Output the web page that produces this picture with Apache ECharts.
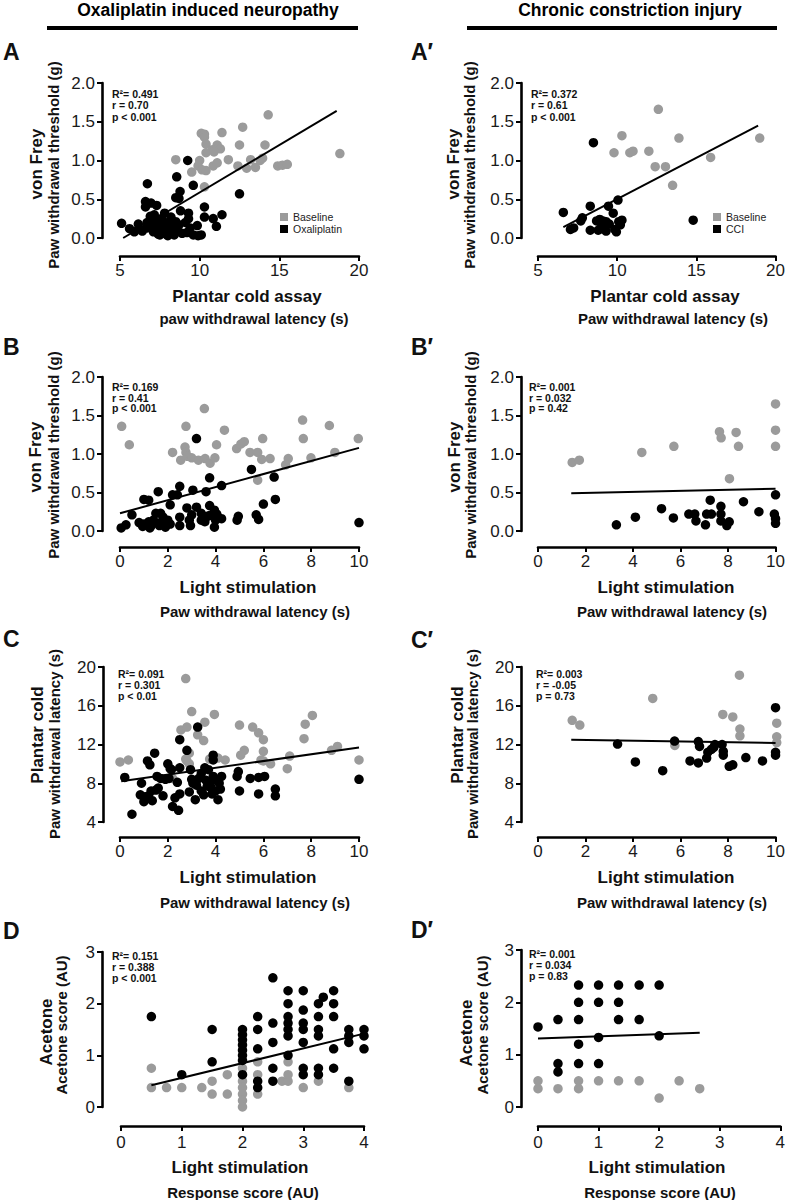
<!DOCTYPE html>
<html><head><meta charset="utf-8">
<script src="https://cdn.jsdelivr.net/npm/echarts@6/dist/echarts.min.js"></script>
<style>html,body{margin:0;padding:0;background:#fff}#c{width:788px;height:1200px}</style>
</head><body><div id="c"></div>
<script>
// ---------------- DATA ----------------
const headers = ['Oxaliplatin induced neuropathy', 'Chronic constriction injury'];
const panelLetters = ['A', 'A\u2032', 'B', 'B\u2032', 'C', 'C\u2032', 'D', 'D\u2032'];
const xTitles = ['Plantar cold assay', 'Plantar cold assay', 'Light stimulation', 'Light stimulation', 'Light stimulation', 'Light stimulation', 'Light stimulation', 'Light stimulation'];
const xSubtitles = ['paw withdrawal latency (s)', 'Paw withdrawal latency (s)', 'Paw withdrawal latency (s)', 'Paw withdrawal latency (s)', 'Paw withdrawal latency (s)', 'Paw withdrawal latency (s)', 'Response score (AU)', 'Response score (AU)'];
const yTitles = ['von Frey', 'von Frey', 'von Frey', 'von Frey', 'Plantar cold', 'Plantar cold', 'Acetone', 'Acetone'];
const ySubtitles = ['Paw withdrawal threshold (g)', 'Paw withdrawal threshold (g)', 'Paw withdrawal threshold (g)', 'Paw withdrawal threshold (g)', 'Paw withdrawal latency (s)', 'Paw withdrawal latency (s)', 'Acetone score (AU)', 'Acetone score (AU)'];
const statsText = [
  ['R\u00b2= 0.491', 'r = 0.70', 'p < 0.001'],
  ['R\u00b2= 0.372', 'r = 0.61', 'p < 0.001'],
  ['R\u00b2= 0.169', 'r = 0.41', 'p < 0.001'],
  ['R\u00b2= 0.001', 'r = 0.032', 'p = 0.42'],
  ['R\u00b2= 0.091', 'r = 0.301', 'p < 0.01'],
  ['R\u00b2= 0.003', 'r = -0.05', 'p = 0.73'],
  ['R\u00b2= 0.151', 'r = 0.388', 'p < 0.001'],
  ['R\u00b2= 0.001', 'r = 0.034', 'p = 0.83']
];
const groupNames = ['Baseline', 'Oxaliplatin', 'CCI'];

// Panel A: von Frey vs plantar cold (oxaliplatin)
const aBase = [[14.3,1.59],[12.7,1.43],[10.1,1.35],[10.3,1.34],[10.3,1.30],[11.4,1.36],[10.4,1.21],[12.5,1.20],[14.1,1.20],[11.1,1.20],[11.3,1.15],[10.8,1.14],[10.4,1.10],[10.9,1.11],[8.5,1.01],[10.0,1.00],[9.9,0.93],[10.15,0.88],[10.4,0.87],[10.85,0.93],[11.1,0.97],[11.8,1.01],[9.5,0.85],[12.4,0.93],[12.95,0.90],[13.2,1.01],[13.5,0.91],[13.8,1.00],[13.95,1.03],[14.9,0.93],[15.2,0.94],[15.5,0.95],[18.8,1.09],[10.3,0.66]];
const aTreat = [[9.25,1.00],[8.56,0.79],[6.72,0.70],[9.6,0.68],[8.77,0.60],[8.5,0.52],[8.7,0.51],[12.5,0.57],[6.6,0.47],[6.95,0.45],[7.3,0.42],[6.6,0.40],[7.8,0.32],[8.8,0.35],[10.3,0.40],[9.3,0.32],[9.3,0.25],[10.3,0.27],[10.85,0.25],[11.4,0.30],[11.05,0.15],[5.1,0.19],[5.6,0.12],[6.15,0.18],[6.2,0.12],[6.7,0.20],[6.7,0.13],[7.0,0.16],[7.1,0.08],[7.2,0.22],[7.3,0.12],[7.4,0.05],[7.5,0.18],[7.6,0.25],[7.7,0.09],[7.8,0.14],[7.9,0.05],[8.0,0.20],[8.1,0.10],[8.2,0.27],[8.3,0.15],[8.4,0.04],[8.5,0.21],[8.6,0.10],[8.7,0.17],[8.0,0.03],[8.9,0.06],[9.1,0.20],[9.2,0.07],[9.4,0.13],[9.6,0.04],[9.85,0.16],[9.9,0.03],[10.1,0.04],[5.9,0.08],[6.4,0.09],[6.9,0.28],[7.15,0.30],[7.5,0.04],[8.3,0.07]];
const aFit = [[5.2,0.0],[18.6,1.64]];

// Panel A': von Frey vs plantar cold (CCI)
const apBase = [[12.6,1.66],[10.3,1.32],[9.8,1.10],[10.8,1.10],[11.0,1.12],[12.0,1.12],[12.4,0.92],[13.05,0.92],[13.9,1.29],[13.5,0.68],[15.9,1.04],[19.0,1.29]];
const apTreat = [[8.5,1.23],[6.6,0.33],[7.05,0.11],[7.25,0.13],[7.8,0.26],[7.7,0.22],[8.3,0.41],[8.3,0.10],[8.7,0.22],[8.8,0.10],[8.95,0.20],[9.0,0.12],[9.1,0.22],[9.2,0.14],[9.3,0.09],[9.45,0.41],[9.5,0.18],[9.75,0.32],[9.85,0.11],[9.95,0.08],[10.05,0.49],[10.1,0.21],[10.2,0.17],[10.3,0.23],[14.8,0.23],[8.9,0.24],[9.3,0.21]];
const apFit = [[6.6,0.14],[18.9,1.45]];

// Panel B: von Frey vs light stimulation (oxaliplatin)
const bBase = [[0.07,1.36],[0.39,1.12],[3.53,1.59],[2.76,1.36],[4.37,1.31],[2.2,1.02],[2.72,1.09],[2.76,1.02],[2.54,0.92],[2.82,0.97],[3.0,0.95],[3.28,0.92],[3.56,0.94],[3.77,0.88],[3.97,0.95],[4.04,1.12],[4.88,1.07],[5.06,1.13],[5.2,1.16],[5.44,1.02],[5.76,1.02],[5.97,1.20],[5.93,0.93],[6.28,0.94],[5.76,0.66],[7.04,0.94],[6.93,0.86],[7.64,1.44],[7.67,1.20],[7.99,0.95],[8.76,1.37],[8.99,1.02],[9.97,1.20]];
const bTreat = [[3.2,1.20],[5.5,0.80],[6.45,0.70],[3.75,0.69],[4.25,0.59],[2.5,0.58],[1.6,0.51],[2.2,0.47],[2.4,0.47],[3.05,0.53],[3.6,0.51],[1.0,0.41],[1.2,0.40],[2.1,0.34],[6.5,0.41],[6.0,0.35],[2.8,0.30],[3.2,0.31],[3.75,0.33],[3.95,0.27],[4.05,0.22],[4.1,0.18],[4.25,0.16],[4.0,0.14],[0.5,0.21],[0.05,0.04],[0.25,0.08],[0.8,0.11],[1.0,0.09],[1.2,0.12],[1.4,0.14],[1.5,0.23],[1.7,0.23],[1.8,0.18],[1.75,0.12],[2.0,0.14],[2.1,0.09],[2.5,0.18],[2.5,0.07],[2.9,0.14],[3.0,0.21],[2.95,0.07],[3.4,0.23],[3.4,0.14],[3.55,0.12],[3.65,0.19],[3.75,0.20],[3.95,0.05],[4.9,0.14],[4.95,0.19],[5.7,0.21],[5.8,0.15],[10.0,0.11],[1.25,0.04],[1.65,0.07],[1.9,0.05],[1.3,0.07],[0.95,0.06]];
const bFit = [[0.0,0.23],[10.0,1.08]];

// Panel B': von Frey vs light stimulation (CCI)
const bpBase = [[1.44,0.89],[1.74,0.92],[4.37,1.02],[5.72,1.10],[7.64,1.29],[7.71,1.21],[8.34,1.28],[8.44,1.10],[8.06,0.68],[10.0,1.65],[10.0,1.31],[10.0,1.10]];
const bpTreat = [[3.3,0.08],[4.1,0.18],[5.2,0.29],[5.7,0.17],[6.35,0.22],[6.6,0.22],[6.65,0.13],[7.05,0.08],[7.1,0.22],[7.3,0.22],[7.25,0.40],[7.7,0.32],[7.7,0.22],[7.7,0.13],[7.95,0.07],[8.05,0.12],[8.65,0.38],[9.3,0.25],[9.95,0.22],[10.0,0.16],[10.0,0.10],[10.0,0.47]];
const bpFit = [[1.4,0.49],[10.0,0.55]];

// Panel C: plantar cold vs light stimulation (oxaliplatin)
const cBase = [[2.75,18.8],[3.0,15.4],[3.95,15.1],[3.55,14.3],[2.55,13.5],[2.8,13.8],[3.25,13.0],[3.5,12.4],[5.0,14.0],[5.55,13.8],[5.8,13.2],[6.0,12.5],[6.0,11.3],[5.2,11.4],[5.05,10.9],[7.75,14.1],[8.05,15.0],[7.7,12.6],[8.85,11.4],[9.1,11.8],[2.9,11.1],[2.8,10.3],[2.9,10.0],[0.0,10.2],[0.35,10.4],[3.75,10.5],[4.1,10.6],[4.4,10.4],[5.9,10.4],[6.3,10.0],[7.1,10.8],[7.0,9.5],[10.0,10.4],[2.2,8.5],[6.0,10.3],[2.75,10.5]];
const cTreat = [[3.25,13.8],[2.5,12.5],[2.8,11.4],[1.45,11.1],[1.15,10.3],[1.25,9.9],[2.0,10.0],[2.1,9.5],[3.9,10.9],[3.9,10.4],[2.5,9.6],[0.2,8.6],[0.5,4.8],[0.9,8.0],[1.05,6.6],[0.85,6.8],[1.2,6.7],[1.3,7.2],[1.35,6.2],[1.5,7.3],[1.55,8.7],[1.7,8.5],[1.6,7.5],[1.8,6.7],[1.9,8.4],[2.05,8.5],[2.15,9.4],[2.2,5.6],[2.3,6.5],[2.5,6.9],[2.45,5.2],[2.4,8.1],[2.95,9.4],[3.0,8.4],[3.05,8.0],[3.15,6.3],[3.2,7.8],[3.3,8.5],[3.4,7.2],[3.4,9.0],[3.5,6.8],[3.6,8.3],[3.65,7.7],[3.7,9.4],[3.75,8.0],[3.8,7.6],[3.85,6.9],[3.9,8.7],[4.0,7.2],[4.05,8.3],[4.1,6.3],[4.15,8.0],[4.2,7.4],[4.25,8.7],[4.9,8.7],[4.95,9.2],[5.0,7.2],[5.45,8.5],[5.8,8.6],[5.8,6.9],[6.05,8.7],[6.5,7.4],[6.5,6.7],[10.0,8.4],[2.9,7.1],[1.0,6.1],[3.55,9.6]];
const cFit = [[0.05,8.2],[10.0,11.7]];

// Panel C': plantar cold vs light stimulation (CCI)
const cpBase = [[1.44,14.5],[1.76,14.0],[4.83,16.75],[5.76,11.9],[7.78,15.1],[8.2,14.85],[8.48,19.15],[8.5,13.6],[8.5,12.9],[10.05,14.2],[10.05,12.8],[10.05,12.2]];
const cpTreat = [[3.35,12.05],[4.1,10.2],[5.25,9.3],[5.75,12.35],[6.4,10.3],[6.75,10.1],[6.75,12.3],[6.8,11.8],[7.1,10.6],[7.15,11.2],[7.3,11.5],[7.4,11.7],[7.45,12.0],[7.75,12.0],[7.8,11.3],[7.8,10.9],[8.05,9.75],[8.2,9.9],[8.75,10.65],[9.45,10.3],[10.0,15.8],[10.0,11.2],[10.0,10.9]];
const cpFit = [[1.4,12.5],[10.0,12.15]];

// Panel D: acetone score vs light stimulation response score (oxaliplatin)
const dBase = [[0.5,0.75],[0.5,0.375],[0.75,0.375],[1.0,0.375],[1.33,0.375],[1.5,0.5],[1.5,0.25],[1.75,0.625],[1.75,0.25],[2,0.75],[2,0.625],[2,0.5],[2,0.375],[2,0.25],[2,0.125],[2,0],[2.25,0.875],[2.25,0.625],[2.25,0.25],[2.65,0.5],[2.75,0.5],[2.75,0.875],[2.75,0.625],[3.0,0.375],[3.25,0.5],[3.75,0.375]];
const dTreat = [[0.5,1.75],[1.0,0.625],[1.5,1.5],[1.5,0.875],[2,1.5],[2,1.4],[2,1.3],[2,1.2],[2,1.1],[2,1.0],[2,0.9],[2,0.625],[2.25,1.75],[2.25,1.5],[2.25,1.125],[2.25,0.5],[2.25,0.375],[2.5,2.5],[2.5,1.625],[2.5,1.25],[2.5,0.75],[2.5,0.5],[2.75,2.25],[2.75,2.0],[2.75,1.75],[2.75,1.625],[2.75,1.5],[2.75,1.375],[2.75,1.0],[3,2.25],[3,1.875],[3,1.625],[3,1.5],[3,1.25],[3,0.75],[3,0.625],[3.25,2.0],[3.25,1.75],[3.25,1.5],[3.25,1.375],[3.25,0.75],[3.25,0.625],[3.33,2.125],[3.5,2.25],[3.5,2.0],[3.5,1.75],[3.5,1.125],[3.5,0.75],[3.75,1.5],[3.75,1.375],[3.75,1.25],[3.75,0.5],[4,1.5],[4,1.375],[4,1.125]];
const dFit = [[0.5,0.42],[4.0,1.42]];

// Panel D': acetone score vs light stimulation response score (CCI)
const dpBase = [[0,0.5],[0,0.35],[0.33,0.35],[0.67,0.5],[0.67,0.35],[1,0.5],[1.33,0.5],[1.67,0.5],[2,0.17],[2.33,0.5],[2.67,0.35]];
const dpTreat = [[0,1.53],[0.33,1.67],[0.33,0.83],[0.33,0.67],[0.67,2.33],[0.67,2.0],[0.67,1.67],[0.67,1.2],[0.67,0.83],[1,2.33],[1,2.0],[1,1.33],[1,0.83],[1.33,2.33],[1.33,2.0],[1.33,1.67],[1.67,2.33],[1.67,1.67],[2,2.33],[2,1.36]];
const dpFit = [[0.0,1.31],[2.67,1.42]];

// axis ranges (min, max, interval)
const xRanges = [[5,20,5],[5,20,5],[0,10,2],[0,10,2],[0,10,2],[0,10,2],[0,4,1],[0,4,1]];
const yRanges = [[0,2,0.5],[0,2,0.5],[0,2,0.5],[0,2,0.5],[4,20,4],[4,20,4],[0,3,1],[0,3,1]];

// ---------------- LAYOUT / STYLE ----------------
const FONT = '"Liberation Sans", Arial, Helvetica, sans-serif';
const GRAY = '#9b9b9b', BLACK = '#000';
const baseSets = [aBase, apBase, bBase, bpBase, cBase, cpBase, dBase, dpBase];
const treatSets = [aTreat, apTreat, bTreat, bpTreat, cTreat, cpTreat, dTreat, dpTreat];
const fitSets = [aFit, apFit, bFit, bpFit, cFit, cpFit, dFit, dpFit];
const treatName = [groupNames[1], groupNames[2], groupNames[1], groupNames[2], groupNames[1], groupNames[2], groupNames[1], groupNames[2]];
const yDec = [1,1,1,1,0,0,0,0];

const grids = [
  {left:120, top:83,  width:239, height:155, xo:18, yo:18, xm:6},
  {left:538, top:83,  width:239, height:155, xo:18, yo:17, xm:6},
  {left:120, top:377, width:239, height:154, xo:16, yo:18, xm:6},
  {left:538, top:377, width:239, height:154, xo:16, yo:17, xm:6},
  {left:120, top:667, width:239, height:155, xo:15, yo:17, xm:6},
  {left:538, top:667, width:239, height:155, xo:15, yo:17, xm:6},
  {left:121, top:952, width:243, height:155, xo:19, yo:19, xm:8},
  {left:538, top:950, width:244, height:157, xo:19, yo:17, xm:8}
];
const xTitlePos = [[247,296,254,318],[665,296,673,318],[248,587,255,611],[666,587,672,611],[248,877,255,902],[666,877,672,902],[240,1167,243,1192],[657,1167,660,1192]];
const yTitlePos = [[36,164,53,165],[453,164,469,165],[35,457,53,455],[454,457,470,455],[37,735,54,744],[457,735,472,744],[46,1032,61,1025],[466,1033,482,1025]];
const statPos = [[112,93.5,11.5],[531,93.5,11.5],[112,387,10.5],[529,387,10.5],[118,673.5,11.2],[536,673.5,11.2],[112,956,11],[529,954,11]];
const letterPos = [[3,52],[411,52],[3,347],[411,347],[3,639],[411,640],[3,931],[411,930]];

const axisLineStyle = {show:true, onZero:false, lineStyle:{color:'#000', width:2.6}};
const axisTickStyle = {show:true, length:5, lineStyle:{color:'#000', width:2}};

const option = {
  animation:false,
  backgroundColor:'#fff',
  grid:[], xAxis:[], yAxis:[], series:[], graphic:[],
  legend:[
    {left:280, top:211, orient:'vertical', icon:'rect', itemWidth:8, itemHeight:8, itemGap:0, padding:0, selectedMode:false,
     data:[groupNames[0], groupNames[1]], textStyle:{fontFamily:FONT, fontSize:10.5, lineHeight:12, color:'#222'}},
    {left:713, top:211, orient:'vertical', icon:'rect', itemWidth:8, itemHeight:8, itemGap:0, padding:0, selectedMode:false,
     data:[groupNames[0], groupNames[2]], textStyle:{fontFamily:FONT, fontSize:10.5, lineHeight:12, color:'#222'}}
  ]
};

for (let i = 0; i < 8; i++) {
  const g = grids[i];
  option.grid.push({left:g.left, top:g.top, width:g.width, height:g.height, containLabel:false});
  option.xAxis.push({
    gridIndex:i, type:'value', min:xRanges[i][0], max:xRanges[i][1], interval:xRanges[i][2],
    offset:g.xo, axisLine:axisLineStyle, axisTick:axisTickStyle, splitLine:{show:false},
    axisLabel:{fontFamily:FONT, fontSize:17, color:'#1a1a1a', margin:g.xm}
  });
  const dec = yDec[i];
  option.yAxis.push({
    gridIndex:i, type:'value', min:yRanges[i][0], max:yRanges[i][1], interval:yRanges[i][2],
    offset:g.yo, axisLine:axisLineStyle, axisTick:axisTickStyle, splitLine:{show:false},
    axisLabel:{fontFamily:FONT, fontSize:17, color:'#1a1a1a', margin:7, formatter:v => v.toFixed(dec)}
  });
  option.series.push({type:'scatter', name:groupNames[0], xAxisIndex:i, yAxisIndex:i, data:baseSets[i],
    symbol:'circle', symbolSize:9.5, itemStyle:{color:GRAY, opacity:1}, clip:false, z:2});
  option.series.push({type:'scatter', name:treatName[i], xAxisIndex:i, yAxisIndex:i, data:treatSets[i],
    symbol:'circle', symbolSize:9.5, itemStyle:{color:BLACK, opacity:1}, clip:false, z:3});
  option.series.push({type:'line', xAxisIndex:i, yAxisIndex:i, data:fitSets[i], showSymbol:false, symbol:'none',
    lineStyle:{color:'#000', width:2}, clip:false, z:4, silent:true});

  const txt = (x, y, s, font, align, valign, rot) => ({
    type:'text', x:x, y:y, rotation:rot || 0, silent:true,
    style:{text:s, font:font, fill:'#111', textAlign:align, textVerticalAlign:valign, align:align, verticalAlign:valign}
  });
  const xp = xTitlePos[i], yp = yTitlePos[i], sp = statPos[i], lp = letterPos[i];
  option.graphic.push(txt(xp[0], xp[1], xTitles[i], 'bold 17px ' + FONT, 'center', 'middle'));
  option.graphic.push(txt(xp[2], xp[3], xSubtitles[i], 'bold 15px ' + FONT, 'center', 'middle'));
  option.graphic.push(txt(yp[0], yp[1], yTitles[i], 'bold 17px ' + FONT, 'center', 'middle', Math.PI / 2));
  option.graphic.push(txt(yp[2], yp[3], ySubtitles[i], 'bold 15px ' + FONT, 'center', 'middle', Math.PI / 2));
  for (let k = 0; k < 3; k++) {
    option.graphic.push(txt(sp[0], sp[1] + k * sp[2], statsText[i][k], 'bold 10.5px ' + FONT, 'left', 'middle'));
  }
  option.graphic.push(txt(lp[0], lp[1], panelLetters[i], 'bold 23px ' + FONT, 'left', 'middle'));
}
// column headers + bars
option.graphic.push({type:'text', x:208, y:10, silent:true, style:{text:headers[0], font:'bold 17.5px ' + FONT, fill:'#000', textAlign:'center', textVerticalAlign:'middle', align:'center', verticalAlign:'middle'}});
option.graphic.push({type:'text', x:630, y:10, silent:true, style:{text:headers[1], font:'bold 17.5px ' + FONT, fill:'#000', textAlign:'center', textVerticalAlign:'middle', align:'center', verticalAlign:'middle'}});
option.graphic.push({type:'rect', silent:true, shape:{x:47, y:26, width:311, height:4}, style:{fill:'#000'}});
option.graphic.push({type:'rect', silent:true, shape:{x:467, y:26, width:310, height:4}, style:{fill:'#000'}});

const chart = echarts.init(document.getElementById('c'), null, {renderer:'svg', width:788, height:1200});
chart.setOption(option);
</script>
</body></html>
